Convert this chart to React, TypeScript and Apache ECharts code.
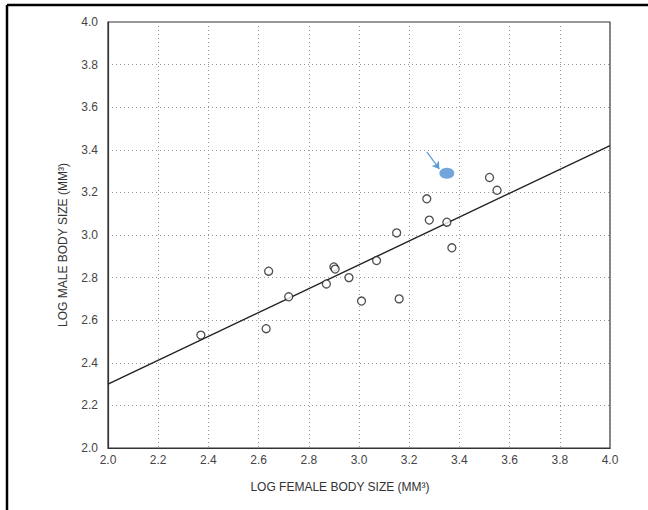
import React, { useEffect, useRef } from "react";
import * as echarts from "echarts";

const femaleLogSize = [2.37, 2.64, 2.63, 2.72, 2.87, 2.90, 2.905, 2.96, 3.01, 3.07, 3.15, 3.16, 3.27, 3.28, 3.35, 3.37, 3.52, 3.55];
const maleLogSize = [2.53, 2.83, 2.56, 2.71, 2.77, 2.85, 2.84, 2.80, 2.69, 2.88, 3.01, 2.70, 3.17, 3.07, 3.06, 2.94, 3.27, 3.21];
const highlightPoint = [3.35, 3.29];
const fitLineX = [2.0, 4.0];
const fitLineY = [2.30, 3.42];
const arrowFrom = [3.27, 3.39];
const arrowTo = [3.32, 3.31];
const axisTicks = [2.0, 2.2, 2.4, 2.6, 2.8, 3.0, 3.2, 3.4, 3.6, 3.8, 4.0];

export default function App() {
  const ref = useRef<HTMLDivElement>(null);
  useEffect(() => {
    if (!ref.current) return;
    const chart = echarts.init(ref.current, null, { renderer: "svg" });
    const font = "Liberation Sans, Arial, sans-serif";
    const axisCommon = {
      type: "value",
      min: axisTicks[0],
      max: axisTicks[axisTicks.length - 1],
      interval: 0.2,
      axisLine: { show: true, lineStyle: { color: "#333", width: 1.2 } },
      axisTick: { show: false },
      splitLine: { show: true, lineStyle: { type: [1, 3], color: "#999", width: 1 } },
      axisLabel: {
        color: "#444",
        fontSize: 12,
        fontFamily: font,
        formatter: (v: number) => v.toFixed(1),
      },
      nameLocation: "middle",
    };
    chart.setOption({
      animation: false,
      backgroundColor: "#fff",
      grid: {
        left: 108,
        right: 38,
        top: 22,
        bottom: 62,
        show: true,
        borderColor: "#333",
        borderWidth: 1.2,
      },
      xAxis: {
        ...axisCommon,
        name: "LOG FEMALE BODY SIZE (MM³)",
        nameGap: 33,
        nameTextStyle: { color: "#333", fontSize: 12, fontFamily: font, padding: [0, 38, 0, 0] },
        axisLabel: { ...axisCommon.axisLabel, margin: 6 },
      },
      yAxis: {
        ...axisCommon,
        name: "LOG MALE BODY SIZE (MM³)",
        nameGap: 39,
        nameTextStyle: { color: "#333", fontSize: 12, fontFamily: font, padding: [0, 20, 0, 0] },
        axisLabel: { ...axisCommon.axisLabel, margin: 10 },
      },
      graphic: [
        { type: "line", shape: { x1: 7, y1: 5, x2: 648, y2: 5 }, style: { stroke: "#000", lineWidth: 2.5 } },
        { type: "line", shape: { x1: 7, y1: 5, x2: 7, y2: 510 }, style: { stroke: "#000", lineWidth: 2.5 } },
      ],
      series: [
        {
          type: "line",
          data: fitLineX.map((x, i) => [x, fitLineY[i]]),
          symbol: "none",
          lineStyle: { color: "#222", width: 1.4 },
          z: 2,
        },
        {
          type: "scatter",
          data: femaleLogSize.map((x, i) => [x, maleLogSize[i]]),
          symbol: "circle",
          symbolSize: 8,
          itemStyle: { color: "#fff", borderColor: "#222", borderWidth: 1.3 },
          z: 3,
        },
        {
          type: "scatter",
          data: [highlightPoint],
          symbol: "circle",
          symbolSize: [15, 11],
          itemStyle: { color: "#4f8fd0" },
          z: 4,
          markLine: {
            silent: true,
            symbol: ["none", "arrow"],
            symbolSize: 7,
            label: { show: false },
            lineStyle: { color: "#5b9bd5", width: 1.2, type: "solid" },
            data: [[{ coord: arrowFrom }, { coord: arrowTo }]],
          },
        },
      ],
    });
    return () => chart.dispose();
  }, []);
  return (
    <div
      ref={ref}
      style={{ position: "fixed", left: 0, top: 0, width: 648, height: 510, background: "#fff" }}
    />
  );
}
